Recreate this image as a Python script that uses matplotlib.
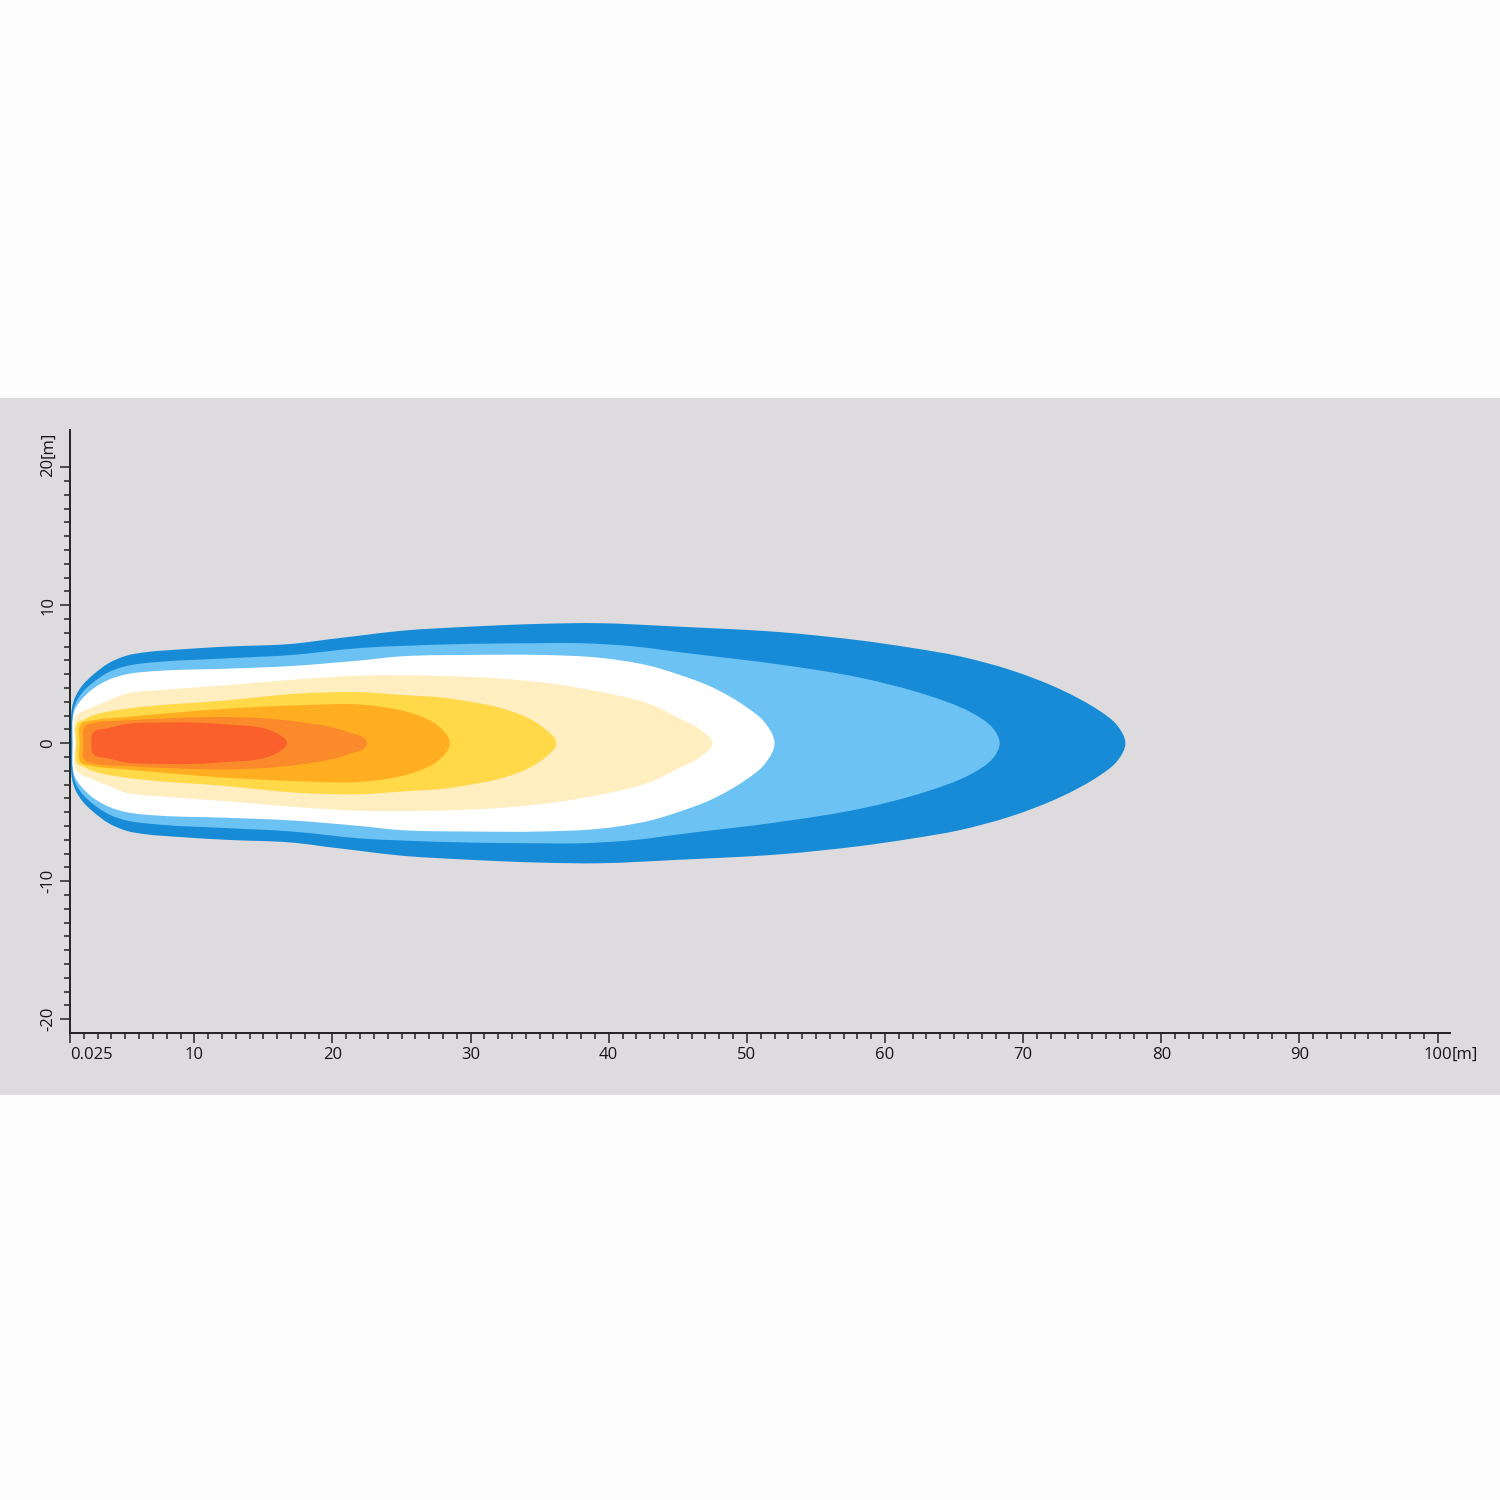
import numpy as np
import matplotlib
matplotlib.use('Agg')
import matplotlib.pyplot as plt
from matplotlib.patches import Rectangle, PathPatch
from matplotlib.path import Path

# ── Data: beam contour half-widths [m] vs distance [m] ──────

dark_x = [1.05, 1.15, 1.4, 1.9, 2.6, 3.8, 5.1, 6.5, 9, 12.3, 17.1, 19.5, 22, 25, 30, 35,
          39.3, 45, 52.4, 58.2, 62, 65.4, 69.1, 72.7, 75.6, 76.8, 77.4]
dark_hw = [0, 2.6, 3.4, 4.2, 4.9, 5.8, 6.35, 6.6, 6.8, 7.0, 7.2, 7.5, 7.8, 8.15, 8.45, 8.65,
           8.7, 8.45, 8.05, 7.45, 6.9, 6.3, 5.3, 3.9, 2.3, 1.3, 0]

light_x = [1.15, 1.25, 1.5, 2.0, 2.6, 3.8, 5.1, 7.5, 12.3, 17.1, 22, 25, 30, 35, 38, 42,
           45.1, 52.4, 58.2, 63, 66.2, 67.8, 68.3]
light_hw = [0, 2.4, 3.1, 3.8, 4.35, 5.15, 5.6, 5.9, 6.15, 6.4, 6.9, 7.05, 7.2, 7.25, 7.25,
            7.0, 6.6, 5.7, 4.75, 3.5, 2.25, 1.1, 0]

white_x = [1.2, 1.3, 1.7, 2.6, 3.8, 5.1, 7.5, 12.3, 17.1, 22, 25, 30, 35, 39.3, 42.8,
           45, 47.5, 50, 51.3, 52]
white_hw = [0, 2.3, 3.0, 3.9, 4.6, 5.0, 5.25, 5.4, 5.6, 6.0, 6.3, 6.4, 6.4, 6.2, 5.65,
            5.0, 4.05, 2.6, 1.5, 0]

pale_x = [1.35, 1.45, 1.7, 2.6, 3.8, 5.1, 7.5, 12.3, 17.1, 22, 27, 32, 36, 37.9, 40,
          42.8, 45.1, 46.6, 47.5]
pale_hw = [0, 2.0, 2.2, 2.6, 3.1, 3.6, 3.85, 4.2, 4.6, 4.9, 4.9, 4.7, 4.3, 4.0, 3.6,
           2.9, 1.8, 1.0, 0]

yellow_x = [1.45, 1.55, 1.9, 2.6, 5.1, 12.3, 17.6, 22, 25, 28, 30, 32, 34, 35.3, 36.2]
yellow_hw = [0, 1.5, 1.65, 2.0, 2.5, 3.1, 3.6, 3.7, 3.5, 3.3, 3.0, 2.6, 1.9, 1.1, 0]

amber_x = [1.7, 1.8, 2.6, 5.1, 12.3, 17.6, 22, 24.9, 26.5, 27.6, 28.5]
amber_hw = [0, 1.4, 1.65, 1.9, 2.5, 2.75, 2.8, 2.4, 1.9, 1.3, 0]

orange_x = [1.95, 2.05, 2.6, 5.1, 8, 12.3, 15, 17.6, 19.5, 21, 22.5]
orange_hw = [0, 1.2, 1.45, 1.65, 1.8, 1.9, 1.8, 1.55, 1.25, 0.85, 0]

red_x = [2.55, 2.7, 3.8, 5.1, 8, 10, 12.5, 14.7, 15.9, 16.7]
red_hw = [0, 0.8, 1.1, 1.4, 1.5, 1.5, 1.35, 1.15, 0.75, 0]

contours = [
    (dark_x, dark_hw, '#178bd6'),
    (light_x, light_hw, '#6cc2f3'),
    (white_x, white_hw, '#ffffff'),
    (pale_x, pale_hw, '#feeec0'),
    (yellow_x, yellow_hw, '#ffd947'),
    (amber_x, amber_hw, '#ffae21'),
    (orange_x, orange_hw, '#fb8a2b'),
    (red_x, red_hw, '#f9602b'),
]

x_major = [1, 10, 20, 30, 40, 50, 60, 70, 80, 90, 100]
x_labels = ['0.025', '10', '20', '30', '40', '50', '60', '70', '80', '90', '100']
y_major = [-20, -10, 0, 10, 20]
y_labels = ['-20', '-10', '0', '10', '20']


def unit(v):
    return v / np.hypot(*v)


def smooth_outline(xs, hw):
    """Closed symmetric outline through the read points, drawn as bezier curves."""
    top = [(x, h) for x, h in zip(xs, hw)]
    bottom = [(xs[i], -hw[i]) for i in range(len(xs) - 2, 0, -1)]
    pts = np.array(top + bottom, dtype=float)
    n = len(pts)
    # tangent = mean of the unit chords on either side of each point
    tang = [unit(unit(pts[i] - pts[i - 1]) + unit(pts[(i + 1) % n] - pts[i]))
            for i in range(n)]
    verts = [pts[0]]
    codes = [Path.MOVETO]
    for i in range(n):
        j = (i + 1) % n
        d = np.hypot(*(pts[j] - pts[i]))
        verts += [pts[i] + tang[i] * d / 3, pts[j] - tang[j] * d / 3, pts[j]]
        codes += [Path.CURVE4] * 3
    verts.append(pts[0])
    codes.append(Path.CLOSEPOLY)
    return Path(verts, codes)


# ── Figure ──────────────────────────────────────────────

plt.rcParams['font.family'] = ['Open Sans', 'DejaVu Sans']

fig = plt.figure(figsize=(15, 15), dpi=100)
fig.patch.set_facecolor('#fdfdfd')
band = Rectangle((0, 1 - 1095 / 1500), 1, (1095 - 398) / 1500,
                 transform=fig.transFigure, facecolor='#dddbde',
                 edgecolor='none', zorder=-10)
fig.add_artist(band)

ax = fig.add_axes([70 / 1500, 1 - 1033 / 1500, 1380 / 1500, 603 / 1500])
ax.set_facecolor('none')
ax.set_zorder(1)

for xs, hw, color in contours:
    ax.add_patch(PathPatch(smooth_outline(xs, hw), facecolor=color,
                           edgecolor='none', linewidth=0))

ax.set_xlim(1, 100.9)
ax.set_ylim(-21, 22.7)

for side in ['top', 'right']:
    ax.spines[side].set_visible(False)
for side in ['left', 'bottom']:
    ax.spines[side].set_linewidth(1.4)
    ax.spines[side].set_color('#222222')

ax.set_xticks(x_major)
ax.set_xticklabels(x_labels)
ax.set_xticks(range(1, 101), minor=True)
ax.set_yticks(y_major)
ax.set_yticklabels(y_labels, rotation=90, va='center')
ax.set_yticks(range(-20, 21), minor=True)

ax.tick_params(which='major', length=7, width=1.1, color='#222222',
               labelsize=12, labelcolor='#151515', pad=3)
ax.tick_params(which='minor', length=4.5, width=1.1, color='#222222')
ax.get_xticklabels()[0].set_horizontalalignment('left')

# unit suffixes after the last tick labels
ax.annotate('[m]', xy=(100, 0), xycoords=('data', 'axes fraction'),
            xytext=(10.3, -10), textcoords='offset points',
            ha='left', va='top', fontsize=12, color='#151515')
ax.annotate('[m]', xy=(0, 20), xycoords=('axes fraction', 'data'),
            xytext=(-10, 6.9), textcoords='offset points',
            ha='right', va='bottom', rotation=90, fontsize=12, color='#151515')

plt.savefig('out.png', dpi=100, facecolor=fig.get_facecolor())
plt.close()
